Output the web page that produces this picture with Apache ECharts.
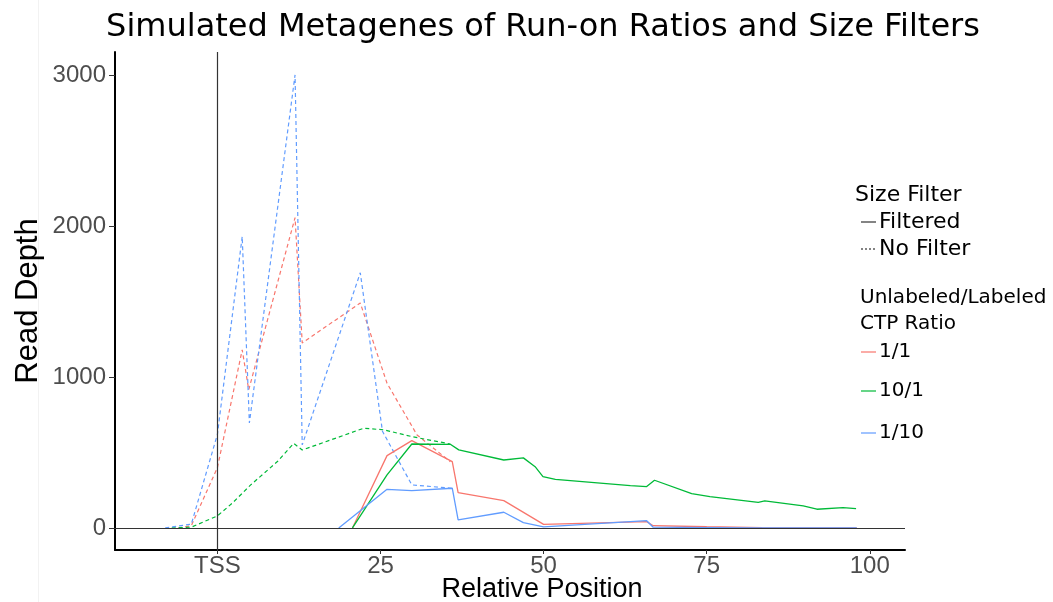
<!DOCTYPE html>
<html>
<head>
<meta charset="utf-8">
<script src="https://cdn.jsdelivr.net/npm/echarts@6/dist/echarts.min.js"></script>
<style>
html,body{margin:0;padding:0;background:#fff;}
#chart{width:1053px;height:602px;}
</style>
</head>
<body>
<div id="chart"></div>
<script>
// ---- data (x = relative position, y = read depth) ----
const xTicks = [0, 25, 50, 75, 100];
const xTickLabels = ['TSS', '25', '50', '75', '100'];
const yTicks = [0, 1000, 2000, 3000];

const ratioNames = ['1/1', '10/1', '1/10'];
const ratioColors = ['#F8766D', '#00BA38', '#619CFF'];

// Filtered (solid)
const filtered_1_1 = [[20.7,0],[26,479],[29.8,578],[36,439],[36.9,234],[43.9,181],[50,24],[65.8,42],[66.8,15],[75,8],[83.5,2],[98,0]];
const filtered_10_1 = [[20.7,0],[26,351],[29.8,556],[35.7,554],[37,517],[43.9,450],[46.9,464],[48.7,406],[49.9,340],[51.8,322],[63.3,280],[65.8,274],[67,316],[72.7,228],[75.5,207],[82.9,170],[83.9,179],[89.8,146],[91.9,124],[95.9,134],[97.9,128]];
const filtered_1_10 = [[18.6,0],[26,256],[29.8,247],[36,263],[36.9,53],[43.9,104],[46.9,35],[50,7],[63.3,42],[65.8,48],[66.8,5],[75,2],[83,0],[98,0]];

// No Filter (dashed)
const nofilter_1_1 = [[-6,0],[-4,15],[0,400],[3.8,1180],[4.8,915],[11.9,2055],[13,1225],[21.9,1490],[26,958],[30.6,616],[35.7,439]];
const nofilter_10_1 = [[-7,0],[-4,5],[0,80],[2.3,165],[5.1,285],[9.2,440],[11.7,560],[13,516],[22.4,660],[25.5,650],[30,603],[35.7,556]];
const nofilter_1_10 = [[-8,0],[-4,25],[0,620],[3.8,1930],[4.9,695],[11.9,3000],[13,550],[21.9,1690],[25.3,640],[29.8,285],[35.9,263]];

const filteredSets = [filtered_1_1, filtered_10_1, filtered_1_10];
const noFilterSets = [nofilter_1_1, nofilter_10_1, nofilter_1_10];

// ---- chart ----
const chart = echarts.init(document.getElementById('chart'), null, {renderer: 'canvas'});
const tickFont = "'Liberation Sans Narrow', 'Liberation Sans', Arial, sans-serif";
const titleFont = "'Liberation Sans', Arial, sans-serif";
const legendFont = "'DejaVu Sans', sans-serif";

const series = [];
ratioNames.forEach((r, i) => {
  series.push({
    name: r + ' No Filter', type: 'line', data: noFilterSets[i], symbol: 'none',
    lineStyle: {color: ratioColors[i], width: 1.2, type: [4, 3]}, z: 3, silent: true
  });
});
ratioNames.forEach((r, i) => {
  series.push({
    name: r + ' Filtered', type: 'line', data: filteredSets[i], symbol: 'none',
    lineStyle: {color: ratioColors[i], width: 1.3}, z: 4, silent: true
  });
});
// reference lines (TSS and zero)
series.push({
  name: 'ref', type: 'line', data: [], silent: true,
  markLine: {
    silent: true, symbol: 'none', label: {show: false},
    lineStyle: {color: '#333', width: 1.2, type: 'solid'},
    data: [{xAxis: 0}, {yAxis: 0}]
  },
  z: 2
});

function legendItem(x, y, label, lineType, color, fontSize) {
  return {
    type: 'group', children: [
      {type: 'line', shape: {x1: x, y1: y, x2: x + 15, y2: y},
       style: {stroke: color, lineWidth: 1.2, lineDash: lineType === 'dotted' ? [2, 2] : null}},
      {type: 'text', x: x + 18, y: y, style: {text: label, font: fontSize + 'px ' + legendFont, fill: '#000', verticalAlign: 'middle', textAlign: 'left'}}
    ]
  };
}

const graphic = [
  {type: 'line', shape: {x1: 38.5, y1: 0, x2: 38.5, y2: 602}, style: {stroke: '#f2f2f2', lineWidth: 1}},
  {type: 'text', x: 543, y: 28, style: {text: 'Simulated Metagenes of Run-on Ratios and Size Filters', font: "32px 'DejaVu Sans', sans-serif", fill: '#000', textAlign: 'center', verticalAlign: 'middle'}},
  {type: 'text', x: 542, y: 590, style: {text: 'Relative Position', font: "27px 'Liberation Sans', Arial, sans-serif", fill: '#000', textAlign: 'center', verticalAlign: 'middle'}},
  {type: 'text', x: 855, y: 195, style: {text: 'Size Filter', font: '22px ' + legendFont, fill: '#000', verticalAlign: 'middle'}},
  legendItem(861, 222, 'Filtered', 'solid', '#333', 22),
  legendItem(861, 249, 'No Filter', 'dotted', '#333', 22),
  {type: 'text', x: 860, y: 298, style: {text: 'Unlabeled/Labeled', font: '20px ' + legendFont, fill: '#000', verticalAlign: 'middle'}},
  {type: 'text', x: 860, y: 324, style: {text: 'CTP Ratio', font: '20px ' + legendFont, fill: '#000', verticalAlign: 'middle'}},
  legendItem(861, 352, ratioNames[0], 'solid', ratioColors[0], 20),
  legendItem(861, 391, ratioNames[1], 'solid', ratioColors[1], 20),
  legendItem(861, 433, ratioNames[2], 'solid', ratioColors[2], 20)
];

chart.setOption({
  backgroundColor: '#fff',
  animation: false,
  grid: {left: 115, right: 148, top: 52, bottom: 52, containLabel: false, outerBoundsMode: 'none'},
  xAxis: {
    type: 'value', min: -15.7, max: 105.4,
    axisLine: {show: true, onZero: false, lineStyle: {color: '#000', width: 2}},
    axisTick: {show: true, length: 4, lineStyle: {color: '#333', width: 1}, customValues: xTicks},
    axisLabel: {customValues: xTicks, fontFamily: tickFont, fontSize: 24, color: '#4D4D4D', margin: 4,
      formatter: v => { const k = xTicks.indexOf(v); return k >= 0 ? xTickLabels[k] : ''; }},
    splitLine: {show: false}
  },
  yAxis: {
    type: 'value', min: -146, max: 3152,
    name: 'Read Depth', nameLocation: 'middle', nameGap: 71, nameRotate: 90, nameMoveOverlap: false,
    nameTextStyle: {fontFamily: titleFont, fontSize: 31, color: '#000'},
    axisLine: {show: true, onZero: false, lineStyle: {color: '#000', width: 2}},
    axisTick: {show: true, length: 6, lineStyle: {color: '#333', width: 1}, customValues: yTicks},
    axisLabel: {customValues: yTicks, fontFamily: tickFont, fontSize: 24, color: '#4D4D4D', margin: 9,
      formatter: v => String(v)},
    splitLine: {show: false}
  },
  series: series,
  graphic: graphic
});
</script>
</body>
</html>
